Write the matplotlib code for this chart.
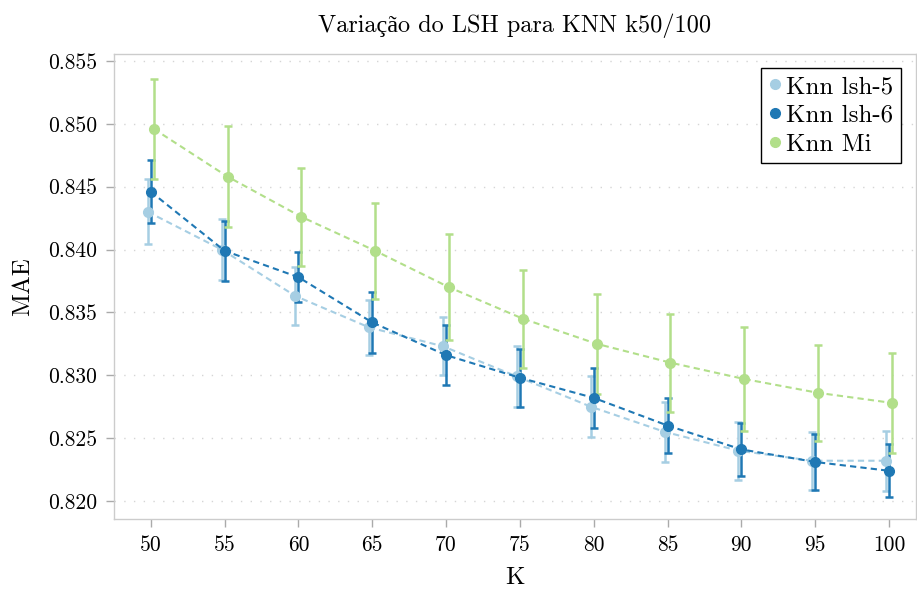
import matplotlib
matplotlib.use('Agg')
import matplotlib.pyplot as plt
from matplotlib.lines import Line2D
import numpy as np

plt.rcParams['font.family'] = ['cmr10', 'Liberation Serif']
plt.rcParams['mathtext.fontset'] = 'cm'
plt.rcParams['axes.formatter.use_mathtext'] = True

# K values and MAE for each method
k_values = [50, 55, 60, 65, 70, 75, 80, 85, 90, 95, 100]

lsh5_mae = [0.8430, 0.8400, 0.8363, 0.8338, 0.8323, 0.8299, 0.8275, 0.8255, 0.8240, 0.8232, 0.8232]
lsh5_err = [0.0026, 0.0024, 0.0023, 0.0022, 0.0023, 0.0024, 0.0024, 0.0024, 0.0023, 0.0023, 0.0024]

lsh6_mae = [0.8446, 0.8399, 0.8378, 0.8342, 0.8316, 0.8298, 0.8282, 0.8260, 0.8241, 0.8231, 0.8224]
lsh6_err = [0.0025, 0.0024, 0.0020, 0.0024, 0.0024, 0.0023, 0.0024, 0.0022, 0.0021, 0.0022, 0.0021]

mi_mae = [0.8496, 0.8458, 0.8426, 0.8399, 0.8370, 0.8345, 0.8325, 0.8310, 0.8297, 0.8286, 0.8278]
mi_err = [0.0040, 0.0040, 0.0039, 0.0038, 0.0042, 0.0039, 0.0040, 0.0039, 0.0041, 0.0038, 0.0040]

labels = ['Knn lsh-5', 'Knn lsh-6', 'Knn Mi']
colors = ['#a6cee3', '#1f78b4', '#b2df8a']
offsets = [-0.2, 0.0, 0.2]

fig = plt.figure(figsize=(9.17, 5.90), dpi=100)
ax = fig.add_axes([114 / 917, 1 - 519.3 / 590, (916 - 114) / 917, (519.3 - 54.3) / 590])

series = [(lsh5_mae, lsh5_err), (lsh6_mae, lsh6_err), (mi_mae, mi_err)]
x = np.array(k_values, dtype=float)
for (mae, err), color, off in zip(series, colors, offsets):
    ax.errorbar(x + off, mae, yerr=err, color=color, fmt='o', markersize=7,
                linestyle=(0, (3, 2)), linewidth=1.5, elinewidth=1.8,
                capsize=3, capthick=1.8)

ax.set_xlim(47.51, 101.83)
ax.set_ylim(0.81854, 0.85553)
yticks = [0.820, 0.825, 0.830, 0.835, 0.840, 0.845, 0.850, 0.855]
ax.set_xticks(k_values)
ax.set_yticks(yticks)
ax.set_yticklabels(['%.3f' % v for v in yticks])
ax.set_xticklabels([str(k) for k in k_values])
ax.tick_params(direction='out', length=6, width=1, color='#aaaaaa', labelsize=15.5, pad=6)

ax.yaxis.grid(True, linestyle=(0, (1, 6)), color='#d5d5d5', linewidth=1)
ax.set_axisbelow(True)
for s in ax.spines.values():
    s.set_color('#cccccc')
    s.set_linewidth(1)

ax.set_xlabel('K', fontsize=18, labelpad=8)
ax.set_ylabel('MAE', fontsize=18, labelpad=10)
ax.set_title('Variação do LSH para KNN k50/100', fontsize=17.5, pad=16)

handles = [Line2D([], [], marker='o', linestyle='none', color=c, markersize=7) for c in colors]
leg = ax.legend(handles, labels, loc='upper right', bbox_to_anchor=(0.981, 0.9705),
                fontsize=18, handlelength=0.5, handletextpad=0.2, borderpad=0.3,
                labelspacing=0.25, borderaxespad=0.0, fancybox=False, framealpha=1,
                edgecolor='black')
leg.get_frame().set_linewidth(1)

fig.savefig('out.png', dpi=100)
